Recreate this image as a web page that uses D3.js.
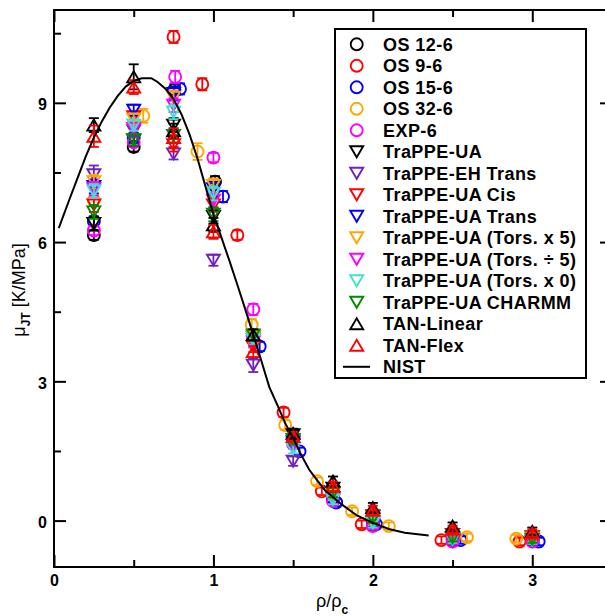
<!DOCTYPE html>
<html lang="en">
<head>
<meta charset="utf-8">
<script src="https://d3js.org/d3.v7.min.js"></script>
<style type="text/css">
body {
    margin: 0;
    background: #fff;
}
svg {
    font-family: "Liberation Sans", Arial, Helvetica, sans-serif;
}
.tick text {
    font-size: 16px;
    font-weight: bold;
    fill: #000;
}
.legend text {
    font-size: 18px;
    font-weight: bold;
    letter-spacing: 0.45px;
}
</style>
</head>
<body>
<div id="chart"></div>
<script type="text/javascript">

// reduced density of the common simulation points
var xVals = [0.25, 0.5, 0.75, 1.0, 1.25, 1.5, 1.75, 2.0, 2.5, 3.0];

// OS (Mie) models, each at its own reduced densities
var os126X = [0.25, 0.5, 0.755, 1.01, 1.25, 1.5, 1.75, 2.0, 2.5, 3.0];
var os126Y = [6.15, 8.05, 9.28, 7.3, 3.9, 1.72, 0.45, -0.05, -0.4, -0.42];
var os126Err = [0.1, 0.1, 0.12, 0.12, 0.1, 0.1, 0.08, 0.08, 0.08, 0.08];

var os96X = [0.75, 0.93, 1.15, 1.44, 1.68, 1.93, 2.43, 2.92];
var os96Y = [10.42, 9.4, 6.15, 2.33, 0.63, -0.08, -0.42, -0.45];
var os96Err = [0.13, 0.13, 0.1, 0.1, 0.08, 0.08, 0.08, 0.08];

var os156X = [0.25, 0.5, 0.79, 1.06, 1.29, 1.54, 1.77, 2.02, 2.55, 3.04];
var os156Y = [6.45, 8.25, 9.3, 6.98, 3.75, 1.49, 0.39, -0.08, -0.42, -0.45];
var os156Err = [0.1, 0.1, 0.12, 0.12, 0.1, 0.08, 0.08, 0.08, 0.08, 0.08];

var os326X = [0.25, 0.56, 0.9, 1.24, 1.45, 1.65, 1.87, 2.1, 2.59, 2.9];
var os326Y = [6.9, 8.72, 7.95, 4.22, 2.06, 0.85, 0.2, -0.12, -0.36, -0.39];
var os326Err = [0.12, 0.15, 0.18, 0.12, 0.1, 0.08, 0.08, 0.08, 0.08, 0.08];

var exp6X = [0.25, 0.5, 0.76, 1.0, 1.25, 1.5, 1.75, 2.0, 2.5, 3.0];
var exp6Y = [6.25, 8.15, 9.56, 7.82, 4.55, 1.65, 0.42, -0.12, -0.45, -0.45];
var exp6Err = [0.1, 0.1, 0.13, 0.1, 0.12, 0.08, 0.08, 0.08, 0.08, 0.08];

// TraPPE / TAN models (all at xVals)
var trappeY = [6.4, 8.2, 8.52, 6.55, 3.95, 1.85, 0.7, 0.1, -0.3, -0.35];
var trappeEhY = [7.45, 8.4, 7.9, 5.61, 3.35, 1.28, 0.45, -0.1, -0.45, -0.45];
var trappeCisY = [6.8, 8.7, 8.1, 6.8, 3.75, 1.75, 0.6, 0.1, -0.3, -0.35];
var trappeTransY = [7.2, 8.84, 9.2, 7.15, 3.9, 1.7, 0.5, -0.02, -0.38, -0.4];
var tors5Y = [7.3, 8.65, 9.12, 7.22, 3.95, 1.75, 0.55, 0.0, -0.35, -0.38];
var torsDiv5Y = [7.15, 8.45, 8.95, 6.9, 3.85, 1.65, 0.45, -0.08, -0.42, -0.42];
var tors0Y = [7.1, 8.52, 8.8, 7.05, 3.9, 1.55, 0.45, -0.05, -0.4, -0.42];
var charmmY = [6.65, 8.2, 8.3, 6.6, 4.0, 1.75, 0.6, 0.05, -0.37, -0.4];
var tanLinY = [8.52, 9.56, 8.4, 6.37, 4.0, 1.88, 0.85, 0.28, -0.12, -0.23];
var tanFlexY = [8.28, 9.34, 8.25, 6.22, 3.64, 1.81, 0.74, 0.22, -0.19, -0.27];

var trappeErr = [0.15, 0.12, 0.15, 0.15, 0.12, 0.1, 0.1, 0.1, 0.08, 0.08];
var trappeEhErr = [0.2, 0.12, 0.12, 0.12, 0.15, 0.1, 0.1, 0.1, 0.08, 0.08];
var tanLinErr = [0.15, 0.27, 0.15, 0.15, 0.12, 0.1, 0.1, 0.1, 0.08, 0.08];
var tanFlexErr = [0.23, 0.15, 0.2, 0.15, 0.12, 0.1, 0.1, 0.1, 0.08, 0.08];

// NIST reference curve
var nistX = [0.03, 0.1, 0.15, 0.2, 0.25, 0.3, 0.35, 0.4, 0.45, 0.5, 0.55, 0.61, 0.65, 0.7,
    0.75, 0.8, 0.85, 0.9, 0.95, 1.0, 1.05, 1.1, 1.15, 1.2, 1.25, 1.3, 1.35, 1.4, 1.45, 1.5,
    1.55, 1.6, 1.65, 1.7, 1.8, 1.9, 2.0, 2.1, 2.2, 2.35];
var nistY = [6.3, 6.95, 7.4, 7.85, 8.25, 8.6, 8.9, 9.15, 9.35, 9.47, 9.53, 9.53, 9.45, 9.3,
    9.08, 8.75, 8.32, 7.8, 7.2, 6.6, 6.1, 5.6, 5.08, 4.55, 4.0, 3.45, 2.88, 2.5, 2.1, 1.78,
    1.42, 1.1, 0.87, 0.65, 0.36, 0.11, -0.05, -0.18, -0.26, -0.32];

var xMajor = [0, 1, 2, 3];
var xMinor = [0.5, 1.5, 2.5, 3.5];
var yMajor = [0, 3, 6, 9];
var yMinor = [1.5, 4.5, 7.5, 10.5];

function pts(xs, ys, es) {
    return ys.map(function(v, i) { return { x: xs[i], y: v, e: es[i] }; });
}

var series = [
    { name: "OS 12-6", color: "#000000", shape: "circle", data: pts(os126X, os126Y, os126Err) },
    { name: "OS 9-6", color: "#ff0000", shape: "circle", data: pts(os96X, os96Y, os96Err) },
    { name: "OS 15-6", color: "#0000ff", shape: "circle", data: pts(os156X, os156Y, os156Err) },
    { name: "OS 32-6", color: "#ffa500", shape: "circle", data: pts(os326X, os326Y, os326Err) },
    { name: "EXP-6", color: "#ff00ff", shape: "circle", data: pts(exp6X, exp6Y, exp6Err) },
    { name: "TraPPE-UA", color: "#000000", shape: "down", data: pts(xVals, trappeY, trappeErr) },
    { name: "TraPPE-EH Trans", color: "#7221bc", shape: "down", data: pts(xVals, trappeEhY, trappeEhErr) },
    { name: "TraPPE-UA Cis", color: "#ff0000", shape: "down", data: pts(xVals, trappeCisY, trappeErr) },
    { name: "TraPPE-UA Trans", color: "#0000ff", shape: "down", data: pts(xVals, trappeTransY, trappeErr) },
    { name: "TraPPE-UA (Tors. x 5)", color: "#ffa500", shape: "down", data: pts(xVals, tors5Y, trappeErr) },
    { name: "TraPPE-UA (Tors. \u00f7 5)", color: "#ff00ff", shape: "down", data: pts(xVals, torsDiv5Y, trappeErr) },
    { name: "TraPPE-UA (Tors. x 0)", color: "#40e0d0", shape: "down", data: pts(xVals, tors0Y, trappeErr) },
    { name: "TraPPE-UA CHARMM", color: "#008b00", shape: "down", data: pts(xVals, charmmY, trappeErr) },
    { name: "TAN-Linear", color: "#000000", shape: "up", data: pts(xVals, tanLinY, tanLinErr) },
    { name: "TAN-Flex", color: "#ff0000", shape: "up", data: pts(xVals, tanFlexY, tanFlexErr) }
];

var width = 605, height = 616;
var plotL = 54, plotR = 612, plotT = 10, plotB = 567;

var x = d3.scaleLinear().domain([0, 3.5]).range([plotL, plotR]);
var y = d3.scaleLinear().domain([-1, 11]).range([plotB, plotT]);

var svg = d3.select("#chart")
    .append("svg")
    .attr("width", width)
    .attr("height", height);

// symbol paths, centred on the point
function symbolPath(shape) {
    if (shape === "down") return "M-6.5,-5.5L6.5,-5.5L0,5.5Z";
    if (shape === "up") return "M-6.5,5.5L6.5,5.5L0,-5.5Z";
    return null;
}

function drawMarker(g, shape, color) {
    if (shape === "circle") {
        g.append("circle").attr("r", 6)
            .attr("fill", "none").attr("stroke", color).attr("stroke-width", 1.9);
    } else {
        g.append("path").attr("d", symbolPath(shape))
            .attr("fill", "none").attr("stroke", color).attr("stroke-width", 1.9)
            .attr("stroke-linejoin", "miter");
    }
}

// data points with error bars
series.forEach(function(s) {
    var grp = svg.append("g").attr("class", "series");
    var p = grp.selectAll("g")
        .data(s.data)
        .enter()
        .append("g")
        .attr("transform", function(d) { return "translate(" + x(d.x) + "," + y(d.y) + ")"; });

    p.append("line")
        .attr("x1", 0).attr("x2", 0)
        .attr("y1", function(d) { return y(d.y + d.e) - y(d.y); })
        .attr("y2", function(d) { return y(d.y - d.e) - y(d.y); })
        .attr("stroke", s.color).attr("stroke-width", 1.8);
    p.append("line")
        .attr("x1", -5).attr("x2", 5)
        .attr("y1", function(d) { return y(d.y + d.e) - y(d.y); })
        .attr("y2", function(d) { return y(d.y + d.e) - y(d.y); })
        .attr("stroke", s.color).attr("stroke-width", 1.8);
    p.append("line")
        .attr("x1", -5).attr("x2", 5)
        .attr("y1", function(d) { return y(d.y - d.e) - y(d.y); })
        .attr("y2", function(d) { return y(d.y - d.e) - y(d.y); })
        .attr("stroke", s.color).attr("stroke-width", 1.8);

    p.each(function() { drawMarker(d3.select(this), s.shape, s.color); });
});

// NIST line
var line = d3.line()
    .x(function(d, i) { return x(nistX[i]); })
    .y(function(d) { return y(d); });

svg.append("path")
    .datum(nistY)
    .attr("d", line)
    .attr("fill", "none")
    .attr("stroke", "#000")
    .attr("stroke-width", 2);

// axes: ticks point inward on all four sides
function styleAxis(g) {
    g.attr("font-size", null).attr("font-family", null);
    g.select(".domain").remove();
    g.selectAll(".tick line").attr("stroke", "#000").attr("stroke-width", 2);
}

svg.append("g").attr("transform", "translate(0," + plotB + ")")
    .call(d3.axisBottom(x).tickValues(xMajor).tickSizeInner(-12).tickSizeOuter(0)
        .tickPadding(8).tickFormat(d3.format("d")))
    .call(styleAxis);
svg.append("g").attr("transform", "translate(0," + plotB + ")")
    .call(d3.axisBottom(x).tickValues(xMinor).tickSizeInner(-7).tickSizeOuter(0).tickFormat(""))
    .call(styleAxis);
svg.append("g").attr("transform", "translate(0," + plotT + ")")
    .call(d3.axisTop(x).tickValues(xMajor).tickSizeInner(-12).tickSizeOuter(0).tickFormat(""))
    .call(styleAxis);
svg.append("g").attr("transform", "translate(0," + plotT + ")")
    .call(d3.axisTop(x).tickValues(xMinor).tickSizeInner(-7).tickSizeOuter(0).tickFormat(""))
    .call(styleAxis);

svg.append("g").attr("transform", "translate(" + plotL + ",0)")
    .call(d3.axisLeft(y).tickValues(yMajor).tickSizeInner(-12).tickSizeOuter(0)
        .tickPadding(7).tickFormat(d3.format("d")))
    .call(styleAxis)
    .selectAll("text").attr("dy", "0.42em");
svg.append("g").attr("transform", "translate(" + plotL + ",0)")
    .call(d3.axisLeft(y).tickValues(yMinor).tickSizeInner(-7).tickSizeOuter(0).tickFormat(""))
    .call(styleAxis);
svg.append("g").attr("transform", "translate(" + plotR + ",0)")
    .call(d3.axisRight(y).tickValues(yMajor).tickSizeInner(-12).tickSizeOuter(0).tickFormat(""))
    .call(styleAxis);
svg.append("g").attr("transform", "translate(" + plotR + ",0)")
    .call(d3.axisRight(y).tickValues(yMinor).tickSizeInner(-7).tickSizeOuter(0).tickFormat(""))
    .call(styleAxis);

// frame
svg.append("rect")
    .attr("x", plotL).attr("y", plotT)
    .attr("width", plotR - plotL).attr("height", plotB - plotT)
    .attr("fill", "none").attr("stroke", "#000").attr("stroke-width", 2);

// axis titles
var xt = svg.append("text")
    .attr("x", 316).attr("y", 607)
    .attr("font-size", 18);
xt.append("tspan").text("\u03c1/\u03c1");
xt.append("tspan").attr("dy", 7).attr("font-size", 12).attr("font-weight", "bold").text("c");

var yt = svg.append("text")
    .attr("transform", "translate(25,290) rotate(-90)")
    .attr("text-anchor", "middle")
    .attr("font-size", 18);
yt.append("tspan").text("\u03bc");
yt.append("tspan").attr("dy", 5).attr("font-size", 12).attr("font-weight", "bold").text("JT");
yt.append("tspan").attr("dy", -5).text(" [K/MPa]");

// legend
var legend = svg.append("g").attr("class", "legend");
legend.append("rect")
    .attr("x", 335).attr("y", 29)
    .attr("width", 251).attr("height", 349)
    .attr("fill", "#fff").attr("stroke", "#000").attr("stroke-width", 2);

var legendRows = series.map(function(s) { return { name: s.name, color: s.color, shape: s.shape }; });
legendRows.push({ name: "NIST", color: "#000", shape: "line" });

var row = legend.selectAll("g.row")
    .data(legendRows)
    .enter()
    .append("g")
    .attr("class", "row")
    .attr("transform", function(d, i) { return "translate(0," + (44.3 + i * 21.5) + ")"; });

row.each(function(d) {
    var g = d3.select(this);
    if (d.shape === "line") {
        g.append("line").attr("x1", 343).attr("x2", 370).attr("y1", 0).attr("y2", 0)
            .attr("stroke", "#000").attr("stroke-width", 2);
    } else {
        var m = g.append("g").attr("transform", "translate(356.7,0)");
        drawMarker(m, d.shape, d.color);
    }
});

row.append("text")
    .attr("x", 383)
    .attr("dy", "0.36em")
    .text(function(d) { return d.name; });

</script>
</body>
</html>
